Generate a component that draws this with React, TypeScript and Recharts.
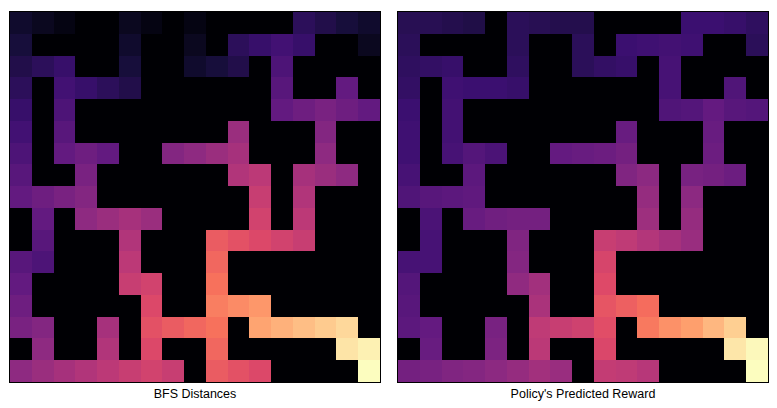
import React from 'react';
import { BarChart, Bar, Cell, XAxis, YAxis } from 'recharts';

// maze grid: 17 x 17, null = wall
const rowIds = [0, 1, 2, 3, 4, 5, 6, 7, 8, 9, 10, 11, 12, 13, 14, 15, 16];
const colIds = [0, 1, 2, 3, 4, 5, 6, 7, 8, 9, 10, 11, 12, 13, 14, 15, 16];

const titles = ['BFS Distances', "Policy's Predicted Reward"];

// BFS value (max distance - distance to goal)
const _ = null;
const bfsValues: (number | null)[][] = [
    [3, 2, 1, 0, _, 2, 1, 0, 1, _, _, _, _, 6, 5, 4, 3],
    [4, _, _, _, _, 3, _, _, 2, _, 6, 7, 8, 7, _, _, 2],
    [5, 6, 7, _, _, 4, _, _, 3, 4, 5, _, 9, _, _, _, _],
    [6, _, 8, 7, 6, 5, _, _, _, _, _, _, 10, _, _, 11, _],
    [7, _, 9, _, _, _, _, _, _, _, _, _, 11, 12, 13, 12, 11],
    [8, _, 10, _, _, _, _, _, _, _, 16, _, _, _, 14, _, _],
    [9, _, 11, 12, 11, _, _, 14, 15, 16, 17, _, _, _, 15, _, _],
    [10, _, _, 13, _, _, _, _, _, _, 18, 19, _, 17, 16, 15, _],
    [11, 12, 13, 14, _, _, _, _, _, _, _, 20, _, 18, _, _, _],
    [_, 11, _, 15, 16, 17, 16, _, _, _, _, 21, _, 19, _, _, _],
    [_, 10, _, _, _, 18, _, _, _, 24, 23, 22, 21, 20, _, _, _],
    [10, 9, _, _, _, 19, _, _, _, 25, _, _, _, _, _, _, _],
    [11, _, _, _, _, 20, 21, _, _, 26, _, _, _, _, _, _, _],
    [12, _, _, _, _, _, 22, _, _, 27, 28, 29, _, _, _, _, _],
    [13, 14, _, _, 17, _, 23, 24, 25, 26, _, 30, 31, 32, 33, 34, _],
    [_, 15, _, _, 18, _, 22, _, _, 25, _, _, _, _, _, 35, 36],
    [15, 16, 17, 18, 19, 20, 21, 20, _, 24, 23, 22, _, _, _, _, 37],
];

const policyReward: (number | null)[][] = [
    [.15, .15, .14, .13, _, .16, .15, .14, .14, _, _, _, _, .20, .20, .19, .17],
    [.16, _, _, _, _, .16, _, _, .16, _, .20, .21, .22, .21, _, _, .16],
    [.17, .18, .19, _, _, .17, _, _, .16, .18, .19, _, .23, _, _, _, _],
    [.18, _, .21, .20, .20, .19, _, _, _, _, _, _, .23, _, _, .25, _],
    [.20, _, .22, _, _, _, _, _, _, _, _, _, .25, .26, .30, .27, .26],
    [.21, _, .22, _, _, _, _, _, _, _, .31, _, _, _, .31, _, _],
    [.21, _, .23, .26, .24, _, _, .30, .31, .32, .34, _, _, _, .32, _, _],
    [.23, _, _, .28, _, _, _, _, _, _, .37, .40, _, .35, .34, .32, _],
    [.25, .27, .28, .29, _, _, _, _, _, _, _, .42, _, .40, _, _, _],
    [_, .24, _, .31, .33, .34, .34, _, _, _, _, .44, _, .42, _, _, _],
    [_, .23, _, _, _, .37, _, _, _, .54, .52, .49, .46, .43, _, _, _],
    [.23, .23, _, _, _, .38, _, _, _, .58, _, _, _, _, _, _, _],
    [.26, _, _, _, _, .41, .45, _, _, .60, _, _, _, _, _, _, _],
    [.27, _, _, _, _, _, .47, _, _, .63, .66, .69, _, _, _, _, _],
    [.28, .30, _, _, .35, _, .52, .54, .56, .61, _, .72, .77, .80, .85, .90, _],
    [_, .31, _, _, .36, _, .51, _, _, .59, _, _, _, _, _, .95, .99],
    [.34, .35, .37, .38, .40, .42, .45, .43, _, .53, .52, .50, _, _, _, _, 1.0],
];

// magma colormap stops
const magmaStops = [
    '#000004', '#140e36', '#3b0f70', '#641a80', '#8c2981', '#b73779',
    '#de4968', '#f7705c', '#fe9f6d', '#fecf92', '#fcfdbf',
];

const hexToRgb = (h: string) => [1, 3, 5].map((i) => parseInt(h.slice(i, i + 2), 16));

function magma(t: number): string {
    const v = Math.max(0, Math.min(1, t)) * (magmaStops.length - 1);
    const i = Math.min(Math.floor(v), magmaStops.length - 2);
    const f = v - i;
    const a = hexToRgb(magmaStops[i]);
    const b = hexToRgb(magmaStops[i + 1]);
    const c = a.map((x, k) => Math.round(x + (b[k] - x) * f));
    return `rgb(${c[0]},${c[1]},${c[2]})`;
}

const cellColor = (v: number | null, vmax: number) => (v === null ? magma(0) : magma(v / vmax));

const gridData = colIds.map((c) => {
    const row: Record<string, number> = { col: c };
    rowIds.forEach((r) => {
        row[`r${r}`] = 1;
    });
    return row;
});

const Heatmap: React.FC<{ values: (number | null)[][]; vmax: number }> = ({ values, vmax }) => (
    <BarChart
        width={370}
        height={370}
        data={gridData}
        margin={{ top: 0, right: 0, bottom: 0, left: 0 }}
        barCategoryGap={0}
        barGap={0}
    >
        <XAxis dataKey="col" hide />
        <YAxis type="number" domain={[0, 17]} allowDataOverflow hide reversed />
        {rowIds.map((r) => (
            <Bar key={r} dataKey={`r${r}`} stackId="grid" isAnimationActive={false}>
                {colIds.map((c) => (
                    <Cell key={c} fill={cellColor(values[r][c], vmax)} />
                ))}
            </Bar>
        ))}
    </BarChart>
);

const panelStyle = (left: number): React.CSSProperties => ({
    position: 'absolute',
    left,
    top: 11,
    width: 370,
    height: 370,
    border: '1px solid #000',
    background: '#000',
});

const titleStyle = (left: number): React.CSSProperties => ({
    position: 'absolute',
    left,
    top: 387,
    width: 372,
    textAlign: 'center',
    fontFamily: '"Liberation Sans", Arial, sans-serif',
    fontSize: 12.5,
    lineHeight: '15px',
    color: '#000',
});

const App: React.FC = () => (
    <div style={{ position: 'absolute', left: 0, top: 0, width: 777, height: 408, background: '#fff' }}>
        <style>{`.heat path { shape-rendering: crispEdges; }`}</style>
        <div className="heat" style={panelStyle(9)}>
            <Heatmap values={bfsValues} vmax={37} />
        </div>
        <div className="heat" style={panelStyle(397)}>
            <Heatmap values={policyReward} vmax={1} />
        </div>
        <div style={titleStyle(9)}>{titles[0]}</div>
        <div style={titleStyle(397)}>{titles[1]}</div>
    </div>
);

export default App;
